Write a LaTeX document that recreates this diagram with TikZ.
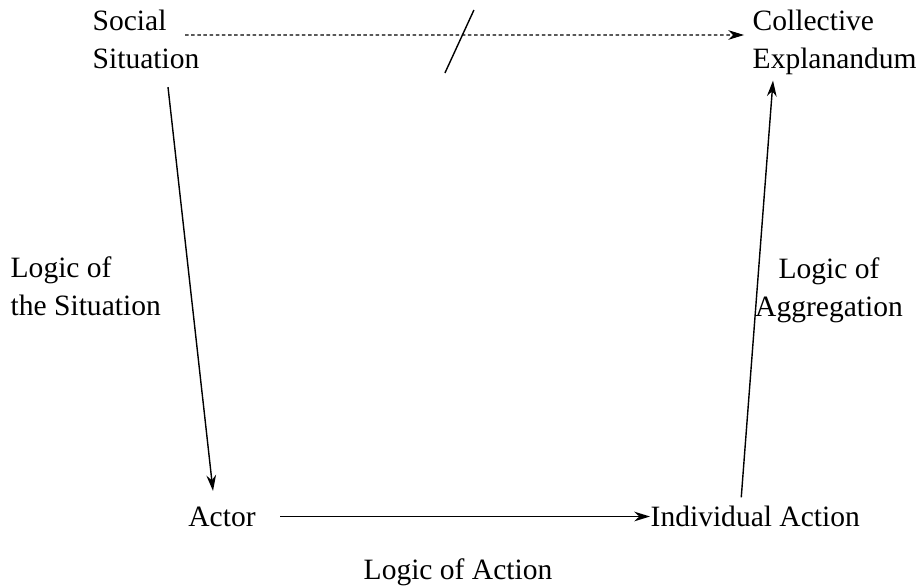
\documentclass[tikz,border=0pt]{standalone}
\usepackage{fontspec}
\setmainfont{Liberation Serif}
\usetikzlibrary{arrows.meta}
\begin{document}
\begin{tikzpicture}[>={Stealth[length=9pt,width=5.5pt]}, line width=0.8pt,
    lbl/.style={inner sep=0pt, font=\fontsize{16.8}{21.6}\selectfont}]
    \useasboundingbox (0,0) rectangle (18.34,-11.72);

    % Macro and micro levels
    \node[lbl, align=left, anchor=west] (social) at (1.84,-0.78) {Social\\Situation};
    \node[lbl, align=left, anchor=west] (collective) at (15.04,-0.85) {Collective\\Explanandum};
    \node[lbl] (actor) at (4.44,-10.33) {Actor};
    \node[lbl, anchor=west] (indiv) at (13.0,-10.33) {Individual Action};

    % Labels of the three steps
    \node[lbl, align=left, anchor=west] (sit) at (0.20,-5.72) {Logic of\\the Situation};
    \node[lbl, align=center] (agg) at (16.58,-5.80) {Logic of\\Aggregation};
    \node[lbl] (act) at (9.16,-11.44) {Logic of Action};

    % Macro link, crossed out
    \draw[->, dash pattern=on 2pt off 1.5pt, line width=0.6pt]
        ([shift={(-0.30,0.08)}]social.east) -- coordinate[pos=0.49] (cut)
        ([shift={(-0.16,0.15)}]collective.west);
    \draw ([shift={(0.30,0.50)}]cut) -- ([shift={(-0.28,-0.76)}]cut);

    % Bathtub
    \draw[->] ([shift={(0.44,-0.36)}]social.south) -- ([shift={(-0.18,0.30)}]actor.north);
    \draw[->] ([shift={(0.48,0)}]actor.east) -- (indiv.west);
    \draw[->] ([shift={(-0.28,0.16)}]indiv.north) -- ([shift={(0.42,-0.10)}]collective.south west);
\end{tikzpicture}
\end{document}
